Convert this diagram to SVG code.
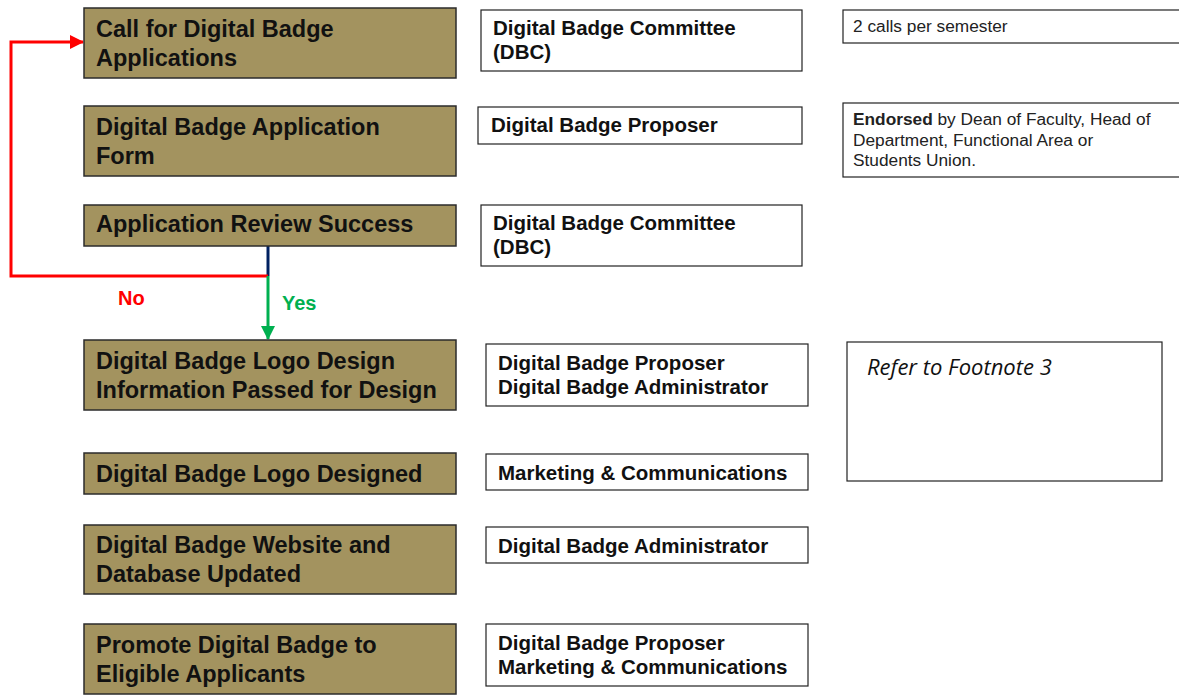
<svg xmlns="http://www.w3.org/2000/svg" width="1179" height="695" viewBox="0 0 1179 695">
<style>
.step{fill:#A3935F;stroke:#2b2b2b;stroke-width:1.5}
.role{fill:#fff;stroke:#222;stroke-width:1.2}
.st{font-family:"Liberation Sans",Arial,sans-serif;font-weight:bold;font-size:23.5px;fill:#111}
.rt{font-family:"Liberation Sans",Arial,sans-serif;font-weight:bold;font-size:20.5px;fill:#111}
.nt{font-family:"Liberation Sans",Arial,sans-serif;font-size:17.3px;fill:#222}
.it{font-family:"Open Sans",sans-serif;font-style:italic;font-size:22px;fill:#111}
</style>
<defs>
<marker id="ar" markerWidth="14" markerHeight="14" refX="13" refY="7" orient="auto" markerUnits="userSpaceOnUse"><path d="M0,0 L14,7 L0,14 z" fill="#ff0000"/></marker>
<marker id="ag" markerWidth="14" markerHeight="14" refX="13" refY="7" orient="auto" markerUnits="userSpaceOnUse"><path d="M0,0 L14,7 L0,14 z" fill="#00b050"/></marker>
</defs>
<g id="connectors">
<line x1="268" y1="246" x2="268" y2="276" stroke="#002060" stroke-width="3"/>
<polyline points="268,276 11,276 11,42 83,42" fill="none" stroke="#ff0000" stroke-width="3" marker-end="url(#ar)"/>
<line x1="268" y1="276" x2="268" y2="339" stroke="#00b050" stroke-width="3" marker-end="url(#ag)"/>
<text x="118" y="305" font-family="Liberation Sans,Arial,sans-serif" font-weight="bold" font-size="20" fill="#ff0000">No</text>
<text x="282" y="310" font-family="Liberation Sans,Arial,sans-serif" font-weight="bold" font-size="20" fill="#00b050">Yes</text>
</g>
<g id="s1"><rect class="step" x="84" y="8" width="372" height="70"/><text class="st" x="96" y="37">Call for Digital Badge</text><text class="st" x="96" y="66">Applications</text></g>
<g id="s2"><rect class="step" x="84" y="106" width="372" height="70"/><text class="st" x="96" y="135">Digital Badge Application</text><text class="st" x="96" y="164">Form</text></g>
<g id="s3"><rect class="step" x="84" y="205" width="372" height="41"/><text class="st" x="96" y="232">Application Review Success</text></g>
<g id="s4"><rect class="step" x="84" y="340" width="372" height="70"/><text class="st" x="96" y="369">Digital Badge Logo Design</text><text class="st" x="96" y="398">Information Passed for Design</text></g>
<g id="s5"><rect class="step" x="84" y="453" width="372" height="41"/><text class="st" x="96" y="482">Digital Badge Logo Designed</text></g>
<g id="s6"><rect class="step" x="84" y="525" width="372" height="69"/><text class="st" x="96" y="553">Digital Badge Website and</text><text class="st" x="96" y="582">Database Updated</text></g>
<g id="s7"><rect class="step" x="84" y="624" width="372" height="70"/><text class="st" x="96" y="653">Promote Digital Badge to</text><text class="st" x="96" y="682">Eligible Applicants</text></g>
<g id="r1"><rect class="role" x="481" y="10" width="321" height="61"/><text class="rt" x="493" y="35">Digital Badge Committee</text><text class="rt" x="493" y="59">(DBC)</text></g>
<g id="r2"><rect class="role" x="478" y="107" width="324" height="37"/><text class="rt" x="491" y="132">Digital Badge Proposer</text></g>
<g id="r3"><rect class="role" x="481" y="205" width="321" height="61"/><text class="rt" x="493" y="230">Digital Badge Committee</text><text class="rt" x="493" y="254">(DBC)</text></g>
<g id="r4"><rect class="role" x="486" y="344" width="322" height="62"/><text class="rt" x="498" y="370">Digital Badge Proposer</text><text class="rt" x="498" y="394">Digital Badge Administrator</text></g>
<g id="r5"><rect class="role" x="486" y="454" width="322" height="36"/><text class="rt" x="498" y="480">Marketing &amp; Communications</text></g>
<g id="r6"><rect class="role" x="486" y="527" width="322" height="36"/><text class="rt" x="498" y="553">Digital Badge Administrator</text></g>
<g id="r7"><rect class="role" x="486" y="624" width="322" height="62"/><text class="rt" x="498" y="650">Digital Badge Proposer</text><text class="rt" x="498" y="674">Marketing &amp; Communications</text></g>
<g id="n1"><rect class="role" x="843" y="10" width="340" height="33"/><text class="nt" x="853" y="32">2 calls per semester</text></g>
<g id="n2"><rect class="role" x="843" y="103" width="340" height="74"/><text class="nt" x="853" y="125"><tspan font-weight="bold">Endorsed</tspan> by Dean of Faculty, Head of</text><text class="nt" x="853" y="146">Department, Functional Area or</text><text class="nt" x="853" y="166">Students Union.</text></g>
<g id="n3"><rect class="role" x="847" y="342" width="315" height="139"/><text class="it" x="867" y="375">Refer to Footnote 3</text></g>
</svg>
